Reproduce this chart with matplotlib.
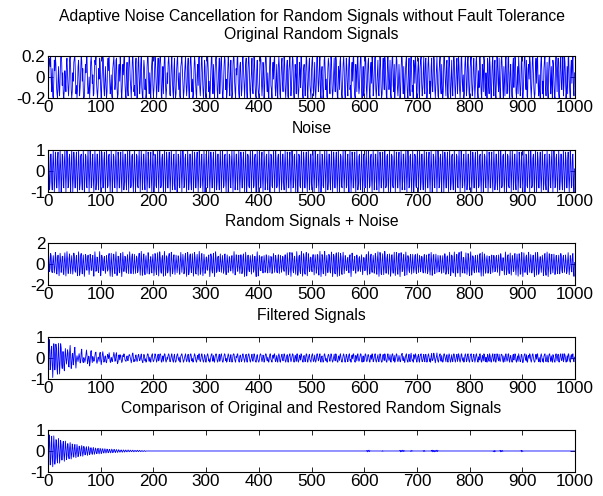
import numpy as np
import matplotlib.pyplot as plt

plt.rcParams['font.family'] = ['Liberation Sans', 'DejaVu Sans']
plt.rcParams['axes.unicode_minus'] = False

# original random signal, in steps of 0.02
original_units = [
    2, -3, 6, 9, 5, 10, -1, -7, 4, -9, -10, -2, 8, 3, 10, 6, -4, -8, -10, -3,
    5, -6, -9, 1, 9, 10, 7, -4, 2, -8, -10, -6, 3, -1, -7, 6, 9, 2, -5, -9,
    -3, 8, 10, 4, -6, -10, -7, 2, -2, 7, 9, 10, 1, -8, -4, -10, -6, 5, 8, -1,
    -9, -5, 3, 10, 8, -2, 4, -7, -10, -9, -1, 6, 2, 9, 10, -3, -8, -6, 0, -10,
    -4, 7, 10, 5, -3, 1, -9, -8, 3, 8, 6, 10, -2, -7, -10, -5, 4, -1, 9, 7,
    -6, -10, -3, 2, 10, 8, -5, -9, -2, 5, -4, -10, -7, 6, 9, 3, 10, -1, -8, -6,
    1, -9, -10, 4, 7, 10, 2, -6, -3, 8, 9, -5, -10, -8, 3, 6, -2, 10, 5, -7,
    -10, -4, 6, 1, 9, 10, -3, -8, -10, 2, 7, -6, -9, 4, 10, 8, -1, -5, -10, -2,
    8, 10, 3, -7, -4, -9, 5, 9, -2, -10, -6, 7, 10, 1, -8, -3, 6, 10, -5, -9,
    -10, 2, 8, 4, -6, -1, -10, -7, 5, 10, 9, -3, -8, 2, -5, -10, 3, 7, 10, -4,
    -9, -6, 1, 10, 7, -2, -10, -5, 4, 9, -7, -3, 8, 10, 6, -9, -10, 0, 5, -8,
    3, 10, 9, -4, -10, -6, 2, -3, 7, 10, 5, -8, -9, -1, 6, 10, -2, -7, -10, 4,
    9, -5, -10, -8, 3, 8, 10, -1, -6, 2, -9, -10, 5, 7, 10, 3, -4, -10, -7, 1,
    6, 10, -3, -9, -4, 5, 9, -6, -10, -2, 8, 10, 4, -7, -1, -10, -8, 3, 10, 7,
    -2, -8, -10, 1, 6, -4, 9, 10, -5, -9, -3, 7, 10, 2, -6, -10, -4, 8, 5, -9,
    -10, -1, 7, 10, 4, -7, -2, -10, -6, 3, 9, 10, -3, -8, 6, -5, -10, 2, 8, 10,
    5, -6, -10, -3, 4, 9, -8, -2, 7, 10, 1, -9, -10, -4, 5, 10, 8, -6, -1, -10,
    -7, 3, 10, 6, -5, -9, 2, 8, -4, -10, -8, 6, 10, 9, -2, -7, -10, 4, 1, 9,
    10, -3, -8, -10, 5, 7, -1, -9, -6, 8, 10, 3, -5, -10, -2, 6, 9, -7, -10, 0,
    7, 10, 4, -6, -10, -3, 2, 9, -5, -8, 1, 10, 6, -4, -9, -10, 3, 8, -2, -7,
    -10, -5, 6, 10, 8, -2, -9, -4, 7, 3, -10, -6, 5, 10, 9, -3, -7, 2, -8, -10,
    1, 9, 10, -4, -6, -10, 3, 7, -1, 8, 10, -5, -9, -2, 6, -7, -10, 4, 10, 5,
    -8, -10, -1, 6, 9, -3, -7, 2, 10, 7, -6, -10, -4, 5, 8, -9, -10, 3, 6, 10,
    -2, -9, -5, 4, 10, 8, -7, -10, -3, 6, 1, -8, 9, 10, -4, -10, -6, 7, 3, -5,
    10, 9, -2, -8, -10, 4, 6, -3, -9, 2, 10, 8, -6, -10, -1, 5, 9, -4, -7, -10,
    3, 8, 10, -5, -9, -2, 7, -6, -10, -4, 9, 10, 1, -7, -3, 6, 10, -8, -10, 2,
    5, -4, -10, -7, 8, 10, 3, -6, -1, -9, -10, 4, 9, 6, -3, -8, 2, 10, 7, -5,
    -10, -6, 1, 9, -2, -7, 10, 8, -4, -9, -10, 5, 3, -6, 7, 10, -1, -8, -10, -3,
    6, 10, 4, -8, -10, -2, 9, 5, -5, -9, 1, 8, 10, -6, -4, -10, 3, 7, -2, 9,
    10, -4, -9, -10, 6, 2, -7, 8, 10, -3, -8, -5, 4, 10, 9, -6, -10, -1, 5, -9,
    -7, 3, 10, 8, -5, -10, -2, 6, 9, -1, -8, -10, 4, 7, -3, 10, 5, -9, -6, 1,
    9, 10, -6, -10, -4, 3, 8, -7, -9, 2, 10, 6, -5, -10, -8, 4, 9, -1, -6, 10,
    7, -3, -9, -10, 5, 10, 1, -6, -2, 8, -8, -10, 3, 9, 10, -4, -7, 6, -10, -5,
    2, 10, 8, -5, -9, -3, 6, -1, -10, -7, 4, 10, 9, -2, -8, 5, -6, -10, 1, 7,
    10, -2, -8, -10, 3, 9, -5, -9, 6, 10, 2, -7, -4, -10, 8, 5, -3, 10, 7, -6,
    -10, -1, 5, 9, -7, -10, 4, 8, 10, -3, -9, -6, 2, 10, -5, -8, 7, 9, -2, -10,
    -6, 6, 10, 3, -8, -2, -10, 5, 9, -4, -7, 1, 10, 8, -6, -10, -3, 4, 10, -1,
    -9, -10, 2, 7, 10, -5, -8, 6, -3, -10, -7, 9, 10, 4, -2, -9, 5, 8, -6, -10,
    3, 10, 6, -7, -10, -1, 8, -4, -9, 2, 10, 7, -5, -10, -3, 6, 9, -8, -2, 10,
    5, -6, -10, -4, 9, 10, -2, -7, 1, -10, -8, 6, 10, 3, -9, -5, 7, 10, -1, -8,
    -10, 4, 8, 10, -3, -9, -6, 5, 9, -2, -10, -4, 7, 10, 2, -7, -10, 3, -5, 9,
    10, -1, -8, -10, 6, 3, -7, 10, 8, -5, -9, 2, -3, -10, 9, 6, -4, -8, 10, 5,
    -6, -10, -2, 7, 10, -4, -9, 4, 8, -8, -10, 1, 10, 6, -3, -7, 9, -5, -10, -1,
    8, 10, 3, -6, -10, 5, -2, -9, 7, 10, -1, -8, -4, 9, 10, -6, -10, 2, 6, -3,
    -9, -10, 6, 9, -5, 1, 10, 8, -7, -10, -3, 5, -8, 10, 4, -2, -9, -6, 7, 10,
    -4, -10, -7, 3, 9, 10, -2, -6, 8, -9, -10, 4, 6, -1, 10, 7, -5, -10, -3, 8,
    10, 2, -6, -10, -8, 5, 9, -3, 7, 10, -4, -9, 1, -7, -10, 6, 10, 3, -8, -2,
    -10, 4, 8, 10, -5, -9, -1, 7, -6, -10, 3, 9, 10, -2, -8, 5, -4, -10, 8, 6,
    -3, -9, -10, 6, 10, 1, -7, 4, 9, -8, -10, -2, 7, 10, -5, -6, 3, 10, -9, -4,
    10, 7, -2, -10, -6, 5, -8, 9, 10, -1, -7, -10, 4, 8, -3, 6, 10, -5, -9, 2,
]

# sinusoidal noise, in steps of 0.1
noise_units = [
    0, 10, 3, -9, -5, 8, 8, -5, -9, 3, 10, 0, -10, -3, 9, 5, -8, -8, 5, 9, -3, -10,
    1, 10, 1, -10, -4, 8, 7, -7, -8, 4, 10, -1, -10, -1, 10, 4, -8, -7, 6, 8, -4, -10,
    3, 10, 0, -10, -3, 9, 5, -8, -8, 5, 9, -3, -10, 0, 10, 3, -9, -6, 7, 8, -5, -9,
    1, 10, 1, -10, -4, 8, 7, -7, -8, 4, 10, -1, -10, -1, 10, 4, -8, -7, 6, 8, -4, -10,
    0, 10, 3, -9, -5, 8, 8, -5, -9, 3, 10, 0, -10, -3, 9, 5, -8, -8, 5, 9, -3, -10,
    -1, 10, 4, -8, -7, 7, 8, -4, -10, 1, 10, 1, -10, -4, 8, 7, -7, -8, 4, 10, -1, -10,
    -3, 9, 5, -8, -8, 5, 9, -3, -10, 0, 10, 3, -9, -5, 8, 8, -5, -9, 3, 10, 0, -10,
    -1, 10, 4, -8, -7, 7, 8, -4, -10, 1, 10, 1, -10, -4, 8, 7, -7, -8, 4, 10, -1, -10,
    0, 10, 3, -9, -5, 8, 8, -5, -9, 3, 10, 0, -10, -3, 9, 5, -8, -8, 5, 9, -3, -10,
    1, 10, 1, -10, -4, 8, 7, -7, -8, 4, 10, -1, -10, -1, 10, 4, -8, -7, 6, 8, -4, -10,
    3, 10, 0, -10, -3, 9, 5, -8, -8, 5, 9, -3, -10, 0, 10, 3, -9, -6, 7, 8, -5, -9,
    1, 10, 1, -10, -4, 8, 7, -7, -8, 4, 10, -1, -10, -1, 10, 4, -8, -7, 6, 8, -4, -10,
    0, 10, 3, -9, -5, 8, 8, -5, -9, 3, 10, 0, -10, -3, 9, 5, -8, -8, 5, 9, -3, -10,
    -1, 10, 4, -8, -7, 7, 8, -4, -10, 1, 10, 1, -10, -4, 8, 7, -7, -8, 4, 10, -1, -10,
    -3, 9, 5, -8, -8, 5, 9, -3, -10, 0, 10, 3, -9, -5, 8, 8, -5, -9, 3, 10, 0, -10,
    -1, 10, 4, -8, -7, 7, 8, -4, -10, 1, 10, 1, -10, -4, 8, 7, -7, -8, 4, 10, -1, -10,
    0, 10, 3, -9, -5, 8, 8, -5, -9, 3, 10, 0, -10, -3, 9, 5, -8, -8, 5, 9, -3, -10,
    1, 10, 1, -10, -4, 8, 7, -7, -8, 4, 10, -1, -10, -1, 10, 4, -8, -7, 6, 8, -4, -10,
    3, 10, 0, -10, -3, 9, 5, -8, -8, 5, 9, -3, -10, 0, 10, 3, -9, -6, 7, 8, -5, -9,
    1, 10, 1, -10, -4, 8, 7, -7, -8, 4, 10, -1, -10, -1, 10, 4, -8, -7, 6, 8, -4, -10,
    0, 10, 3, -9, -5, 8, 8, -5, -9, 3, 10, 0, -10, -3, 9, 5, -8, -8, 5, 9, -3, -10,
    -1, 10, 4, -8, -7, 7, 8, -4, -10, 1, 10, 1, -10, -4, 8, 7, -7, -8, 4, 10, -1, -10,
    -3, 9, 5, -8, -8, 5, 9, -3, -10, 0, 10, 3, -9, -5, 8, 8, -5, -9, 3, 10, 0, -10,
    -1, 10, 4, -8, -7, 7, 8, -4, -10, 1, 10, 1, -10, -4, 8, 7, -7, -8, 4, 10, -1, -10,
    0, 10, 3, -9, -5, 8, 8, -5, -9, 3, 10, 0, -10, -3, 9, 5, -8, -8, 5, 9, -3, -10,
    1, 10, 1, -10, -4, 8, 7, -7, -8, 4, 10, -1, -10, -1, 10, 4, -8, -7, 6, 8, -4, -10,
    3, 10, 0, -10, -3, 9, 5, -8, -8, 5, 9, -3, -10, 0, 10, 3, -9, -6, 7, 8, -5, -9,
    1, 10, 1, -10, -4, 8, 7, -7, -8, 4, 10, -1, -10, -1, 10, 4, -8, -7, 6, 8, -4, -10,
    0, 10, 3, -9, -5, 8, 8, -5, -9, 3, 10, 0, -10, -3, 9, 5, -8, -8, 5, 9, -3, -10,
    -1, 10, 4, -8, -7, 7, 8, -4, -10, 1, 10, 1, -10, -4, 8, 7, -7, -8, 4, 10, -1, -10,
    -3, 9, 5, -8, -8, 5, 9, -3, -10, 0, 10, 3, -9, -5, 8, 8, -5, -9, 3, 10, 0, -10,
    -1, 10, 4, -8, -7, 7, 8, -4, -10, 1, 10, 1, -10, -4, 8, 7, -7, -8, 4, 10, -1, -10,
    0, 10, 3, -9, -5, 8, 8, -5, -9, 3, 10, 0, -10, -3, 9, 5, -8, -8, 5, 9, -3, -10,
    1, 10, 1, -10, -4, 8, 7, -7, -8, 4, 10, -1, -10, -1, 10, 4, -8, -7, 6, 8, -4, -10,
    3, 10, 0, -10, -3, 9, 5, -8, -8, 5, 9, -3, -10, 0, 10, 3, -9, -6, 7, 8, -5, -9,
    1, 10, 1, -10, -4, 8, 7, -7, -8, 4, 10, -1, -10, -1, 10, 4, -8, -7, 6, 8, -4, -10,
    0, 10, 3, -9, -5, 8, 8, -5, -9, 3, 10, 0, -10, -3, 9, 5, -8, -8, 5, 9, -3, -10,
    -1, 10, 4, -8, -7, 7, 8, -4, -10, 1, 10, 1, -10, -4, 8, 7, -7, -8, 4, 10, -1, -10,
    -3, 9, 5, -8, -8, 5, 9, -3, -10, 0, 10, 3, -9, -5, 8, 8, -5, -9, 3, 10, 0, -10,
    -1, 10, 4, -8, -7, 7, 8, -4, -10, 1, 10, 1, -10, -4, 8, 7, -7, -8, 4, 10, -1, -10,
    0, 10, 3, -9, -5, 8, 8, -5, -9, 3, 10, 0, -10, -3, 9, 5, -8, -8, 5, 9, -3, -10,
    1, 10, 1, -10, -4, 8, 7, -7, -8, 4, 10, -1, -10, -1, 10, 4, -8, -7, 6, 8, -4, -10,
    3, 10, 0, -10, -3, 9, 5, -8, -8, 5, 9, -3, -10, 0, 10, 3, -9, -6, 7, 8, -5, -9,
    1, 10, 1, -10, -4, 8, 7, -7, -8, 4, 10, -1, -10, -1, 10, 4, -8, -7, 6, 8, -4, -10,
    0, 10, 3, -9, -5, 8, 8, -5, -9, 3, 10, 0, -10, -3, 9, 5, -8, -8, 5, 9, -3, -10,
    -1, 10, 4, -8, -7, 7, 8, -4, -10, 1,
]

# restored minus original: convergence transient at the start, in steps of 0.01
residual_head = [
    -90, -26, 77, 43, -66, -65, 40, 70, -23, -75, 0, 72, 21, -63, -34, 54, 52, -32, -57, 18, 60, 0,
    -58, -17, 50, 28, -43, -42, 26, 46, -15, -49, 0, 47, 14, -41, -22, 35, 34, -21, -37, 12, 40, 0,
    -38, -11, 33, 18, -29, -28, 17, 31, -10, -32, 0, 31, 9, -27, -15, 23, 22, -14, -24, 8, 26, 0,
    -25, -8, 22, 12, -18, -18, 11, 20, -7, -21, 0, 21, 6, -18, -10, 15, 15, -9, -16, 5, 17, 0,
    -16, -5, 14, 8, -12, -12, 7, 13, -4, -14, 0, 13, 4, -12, -6, 10, 10, -6, -10, 3, 11, 0,
    -10, -3, 9, 5, -8, -8, 5, 8, -3, -9, 0, 9, 3, -8, -4, 7, 7, -4, -7, 2, 7, 0,
    -7, -2, 6, 3, -5, -5, 3, 5, -2, -6, 0, 5, 2, -5, -3, 4, 4, -3, -4, 1, 5, 0,
    -4, -1, 4, 2, -3, -3, 2, 4, -1, -4, 0, 3, 1, -3, -2, 3, 3, -2, -3, 1, 3, 0,
    -3, -1, 2, 1, -2, -2, 1, 2, -1, -2,
]

# small residual bursts later on: start sample -> values (steps of 0.01)
residual_blips = {
    605: [2, -4, 3, -2, 4, -3, 1],
    634: [-2, 2, -1],
    668: [3, -4, 2, -3, 4, -2, 3, -3, 2, -1],
    688: [-2, 3, -2, 2, -1],
    712: [2, -3, 3, -2],
    728: [3, -4, 4, -3, 3, -4, 2, -3, 3, -2, 4, -3, 2],
    845: [-3, 2, -4, 3, -2],
    858: [3, -4, 2, -3, 3, -2],
    898: [3, -4, 2, -2],
}

titles = [
    'Adaptive Noise Cancellation for Random Signals without Fault Tolerance\nOriginal Random Signals',
    'Noise',
    'Random Signals + Noise',
    'Filtered Signals',
    'Comparison of Original and Restored Random Signals',
]
y_limits = [(-0.2, 0.2), (-1, 1), (-2, 2), (-1, 1), (-1, 1)]
y_ticks = [[-0.2, 0, 0.2], [-1, 0, 1], [-2, 0, 2], [-1, 0, 1], [-1, 0, 1]]
y_ticklabels = [['-0.2', '0', '0.2'], ['-1', '0', '1'], ['-2', '0', '2'], ['-1', '0', '1'], ['-1', '0', '1']]
x_ticks = list(range(0, 1001, 100))

original = np.array(original_units) * 0.02
noise = np.array(noise_units) * 0.1
mixed = original + noise
residual = np.zeros(len(original))
residual[:len(residual_head)] = np.array(residual_head) * 0.01
for start, vals in residual_blips.items():
    residual[start:start + len(vals)] = np.array(vals) * 0.01
filtered = original + residual
n = np.arange(len(original))

series = [original, noise, mixed, filtered, residual]

fig = plt.figure(figsize=(6.03, 4.96), dpi=100)
bottoms = [0.8024, 0.6129, 0.4254, 0.2359, 0.0484]

for k in range(5):
    ax = fig.add_axes([0.0796, bottoms[k], 0.874, 0.0847])
    ax.plot(n, series[k], color='blue', lw=0.6)
    ax.set_xlim(0, 1000)
    ax.set_ylim(*y_limits[k])
    ax.set_xticks(x_ticks)
    ax.set_yticks(y_ticks[k])
    ax.set_yticklabels(y_ticklabels[k])
    ax.tick_params(direction='in', top=True, right=True, length=3.5, width=0.6,
                   labelsize=12.3, colors='black')
    ax.tick_params(axis='x', pad=1.5)
    ax.tick_params(axis='y', pad=2)
    for sp in ax.spines.values():
        sp.set_linewidth(0.8)
    ax.set_title(titles[k], fontsize=11.3, pad=12, linespacing=1.3)

fig.savefig('out.png', dpi=100)
